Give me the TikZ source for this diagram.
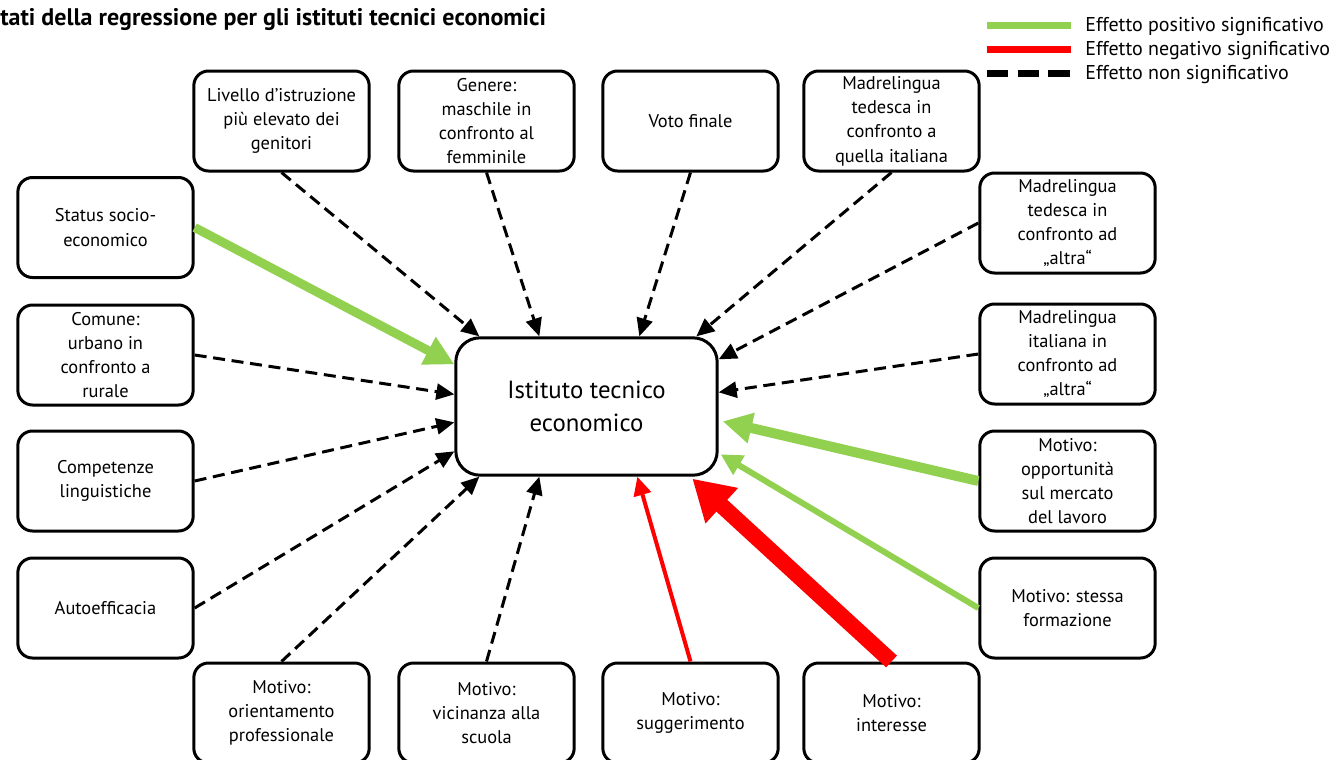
\documentclass[tikz,border=0pt]{standalone}
\usepackage{fontspec}
\setmainfont{PT Sans}
\usetikzlibrary{arrows.meta,calc}
\definecolor{posgreen}{RGB}{146,208,80}
\definecolor{negred}{RGB}{255,0,0}

\tikzset{
  box/.style={draw, line width=2.25pt, rounded corners=11pt, fill=white,
    minimum width=131.5pt, minimum height=75pt, align=center,
    font=\fontsize{13.8}{18.2}\selectfont, inner sep=2pt},
  centerbox/.style={draw, line width=2.25pt, rounded corners=18pt, fill=white,
    minimum width=196pt, minimum height=103pt, align=center,
    font=\fontsize{18.6}{24.8}\selectfont},
  nsig/.style={line width=2.25pt, dash pattern=on 9pt off 5pt,
    -{Triangle[length=13.5pt,width=12pt]}},
  legendtext/.style={anchor=west, font=\fontsize{15}{17}\selectfont, inner sep=0pt},
}

\begin{document}
\begin{tikzpicture}[x=0.75pt,y=-0.75pt]
\useasboundingbox (0,0) rectangle (1335,760);

% title
\node[anchor=west, inner sep=0pt, font=\fontsize{18}{21}\selectfont\bfseries] (title) at (0,19.5)
  {tati della regressione per gli istituti tecnici economici};

% legend
\coordinate (lg1a) at (987,25); \coordinate (lg1b) at (1071,25);
\coordinate (lg2a) at (987,49); \coordinate (lg2b) at (1071,49);
\coordinate (lg3a) at (987,73); \coordinate (lg3b) at (1071,73);
\draw[posgreen, line width=5.25pt] (lg1a) -- (lg1b);
\draw[negred, line width=5.25pt] (lg2a) -- (lg2b);
\draw[black, line width=5.25pt, dash pattern=on 16pt off 7pt] (lg3a) -- (lg3b);
\node[legendtext] (lt1) at (1085,26.5) {Effetto positivo significativo};
\node[legendtext] (lt2) at (1085,50.5) {Effetto negativo significativo};
\node[legendtext] (lt3) at (1085,74.5) {Effetto non significativo};

% central outcome
\node[centerbox] (ctr) at (586.5,406.5) {Istituto tecnico\\economico};

% top row
\node[box] (livello) at (281.5,121) {Livello d’istruzione\\più elevato dei\\genitori};
\node[box] (genere) at (486.5,121) {Genere:\\maschile in\\confronto al\\femminile};
\node[box] (voto) at (690.5,121) {Voto finale};
\node[box] (madtedit) at (891.5,121) {Madrelingua\\tedesca in\\confronto a\\quella italiana};

% left column
\node[box] (status) at (105.5,227.5) {Status socio-\\economico};
\node[box] (comune) at (105.5,355) {Comune:\\urbano in\\confronto a\\rurale};
\node[box] (compet) at (105.5,481) {Competenze\\linguistiche};
\node[box] (autoeff) at (105.5,608) {Autoefficacia};

% right column
\node[box] (madtedal) at (1067.5,223) {Madrelingua\\tedesca in\\confronto ad\\„altra“};
\node[box] (madital) at (1067.5,354) {Madrelingua\\italiana in\\confronto ad\\„altra“};
\node[box] (opport) at (1067.5,481) {Motivo:\\opportunità\\sul mercato\\del lavoro};
\node[box] (stessa) at (1067.5,608) {Motivo: stessa\\formazione};

% bottom row
\node[box] (orient) at (281.5,713) {Motivo:\\orientamento\\professionale};
\node[box] (vicin) at (486.5,713) {Motivo:\\vicinanza alla\\scuola};
\node[box] (sugg) at (690.5,713) {Motivo:\\suggerimento};
\node[box] (inter) at (891.5,713) {Motivo:\\interesse};

% entry points on the central box
\coordinate (t1) at ($(ctr.north west)+(25,0)$);
\coordinate (t2) at ($(ctr.north west)+(85,0)$);
\coordinate (t3) at ($(ctr.north west)+(185,0)$);
\coordinate (t4) at ($(ctr.north west)+(242,0)$);
\coordinate (r1) at ($(ctr.north east)+(0,23)$);
\coordinate (r2) at ($(ctr.north east)+(0,56)$);
\coordinate (r3) at ($(ctr.north east)+(4,85)$);
\coordinate (r4) at ($(ctr.north east)+(2,118)$);
\coordinate (l1) at ($(ctr.north west)+(0,28)$);
\coordinate (l2) at ($(ctr.north west)+(0,58)$);
\coordinate (l3) at ($(ctr.north west)+(0,86)$);
\coordinate (l4) at ($(ctr.north west)+(0,115)$);
\coordinate (b1) at ($(ctr.south west)+(25,0)$);
\coordinate (b2) at ($(ctr.south west)+(85,0)$);
\coordinate (b3) at ($(ctr.south west)+(183,0)$);
\coordinate (b4) at ($(ctr.south west)+(238,2)$);

% non-significant effects
\draw[nsig] (livello.south) -- (t1);
\draw[nsig] (genere.south) -- (t2);
\draw[nsig] (voto.south) -- (t3);
\draw[nsig] (madtedit.south) -- (t4);
\draw[nsig] (madtedal.west) -- (r1);
\draw[nsig] (madital.west) -- (r2);
\draw[nsig] (comune.east) -- (l2);
\draw[nsig] (compet.east) -- (l3);
\draw[nsig] (autoeff.east) -- (l4);
\draw[nsig] (orient.north) -- (b1);
\draw[nsig] (vicin.north) -- (b2);

% significant positive effects
\draw[posgreen, line width=6.75pt, -{Triangle[length=22pt,width=22pt]}] (status.east) -- (l1);
\draw[posgreen, line width=7.5pt, -{Triangle[length=22pt,width=22pt]}] (opport.west) -- (r3);
\draw[posgreen, line width=4.5pt, -{Triangle[length=16pt,width=16pt]}] (stessa.west) -- (r4);

% significant negative effects
\draw[negred, line width=3pt, -{Triangle[length=14pt,width=13pt]}] (sugg.north) -- (b3);
\draw[negred, line width=12pt, -{Triangle[length=30pt,width=34pt]}] (inter.north) -- (b4);

\end{tikzpicture}
\end{document}
